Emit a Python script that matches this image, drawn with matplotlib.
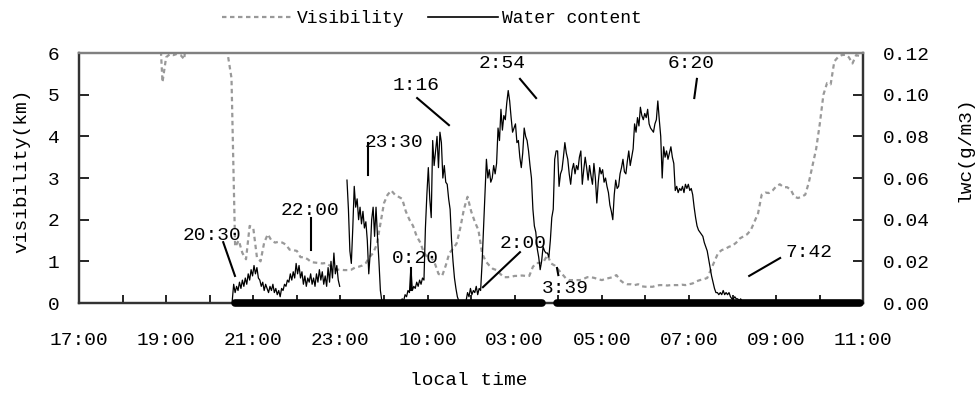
import numpy as np
import matplotlib
matplotlib.use('Agg')
import matplotlib.pyplot as plt
from matplotlib.lines import Line2D

plt.rcParams['font.family'] = ['Liberation Mono', 'DejaVu Sans']

# x轴: 17:00 之后的小时数
tick_hours = [0, 2, 4, 6, 8, 10, 12, 14, 16, 18]
tick_labels = ['17:00', '19:00', '21:00', '23:00', '10:00', '03:00',
               '05:00', '07:00', '09:00', '11:00']

# 能见度 (km), 每5分钟一个值, 超过6的部分在图外
vis_start = '18:50'
vis_step_min = 5
visibility = [
    7.0, 5.3, 5.9, 5.97, 5.95, 5.98, 5.95, 5.85, 7.0, 7.0,
    7.0, 7.0, 7.0, 7.0, 7.0, 7.0, 7.0, 7.0, 7.0, 5.95,
    5.4, 1.35, 1.5, 1.2, 1.05, 1.85, 1.8, 1.1, 1.0, 1.45,
    1.65, 1.5, 1.45, 1.47, 1.45, 1.4, 1.28, 1.27, 1.25, 1.1,
    1.1, 1.05, 0.98, 0.97, 0.96, 0.95, 0.96, 0.9, 0.85, 0.8,
    0.8, 0.79, 0.79, 0.8, 0.85, 0.87, 0.9, 0.96, 1.1, 1.2,
    1.4, 1.9, 2.4, 2.6, 2.7, 2.6, 2.55, 2.5, 2.2, 2.0,
    1.85, 1.6, 1.45, 1.2, 1.1, 1.1, 0.95, 0.7, 0.65, 0.9,
    1.2, 1.3, 1.43, 1.8, 2.25, 2.55, 2.2, 1.95, 1.75, 1.2,
    1.0, 0.9, 0.82, 0.79, 0.7, 0.62, 0.62, 0.63, 0.65, 0.65,
    0.66, 0.65, 0.65, 0.87, 0.96, 0.96, 1.0, 1.15, 0.95, 0.9,
    0.8, 0.7, 0.6, 0.55, 0.55, 0.55, 0.55, 0.58, 0.62, 0.62,
    0.6, 0.57, 0.55, 0.58, 0.6, 0.62, 0.67, 0.55, 0.48, 0.45,
    0.45, 0.43, 0.45, 0.4, 0.39, 0.39, 0.39, 0.42, 0.43, 0.43,
    0.42, 0.43, 0.43, 0.43, 0.44, 0.43, 0.45, 0.47, 0.52, 0.55,
    0.57, 0.6, 0.8, 1.0, 1.2, 1.27, 1.3, 1.35, 1.38, 1.45,
    1.55, 1.6, 1.65, 1.75, 1.95, 2.15, 2.6, 2.65, 2.64, 2.7,
    2.8, 2.85, 2.78, 2.78, 2.72, 2.55, 2.52, 2.55, 2.6, 2.9,
    3.3, 3.7, 4.3, 5.0, 5.28, 5.25, 5.8, 5.9, 5.95, 5.96,
    5.9, 5.75, 5.95, 5.93, 5.9,
]

# 液态水含量 (g/m3), 每2分钟一个值
lwc_start = '20:31'
lwc_step_min = 2
lwc = [
    0.001, 0.009, 0.005, 0.008, 0.006, 0.010, 0.007, 0.011, 0.008, 0.012,
    0.009, 0.014, 0.011, 0.016, 0.013, 0.018, 0.014, 0.017, 0.012, 0.011,
    0.008, 0.010, 0.006, 0.009, 0.007, 0.005, 0.008, 0.006, 0.009, 0.005,
    0.007, 0.004, 0.006, 0.003, 0.007, 0.006, 0.009, 0.008, 0.011, 0.010,
    0.014, 0.011, 0.015, 0.012, 0.019, 0.014, 0.018, 0.012, 0.015, 0.009,
    0.013, 0.008, 0.012, 0.010, 0.014, 0.009, 0.012, 0.008, 0.014, 0.010,
    0.016, 0.011, 0.015, 0.009, 0.013, 0.008, 0.017, 0.010, 0.020, 0.012,
    0.024, 0.014, 0.018, 0.011, 0.008,
    np.nan, np.nan, np.nan, np.nan,
    0.059, 0.045, 0.025, 0.019, 0.036, 0.056, 0.046, 0.050, 0.040, 0.046,
    0.038, 0.044, 0.036, 0.039, 0.030, 0.014, 0.024, 0.040, 0.046, 0.032,
    0.046, 0.032, 0.020, 0.006, 0.001,
    0.000, 0.001, 0.000, 0.000, 0.001, 0.000, 0.000, 0.001, 0.000, 0.000,
    0.001, 0.000,
    0.001, 0.002, 0.001, 0.004, 0.003, 0.006, 0.005, 0.017, 0.006, 0.008,
    0.007, 0.010, 0.008, 0.011, 0.009, 0.012, 0.011,
    0.036, 0.052, 0.065, 0.050, 0.041, 0.078, 0.066, 0.073, 0.080, 0.065,
    0.082, 0.077, 0.060, 0.066, 0.058, 0.057, 0.050, 0.045, 0.030, 0.020,
    0.012, 0.007, 0.003, 0.001, 0.000, 0.001, 0.000, 0.001, 0.001,
    0.005, 0.003, 0.007, 0.004, 0.006, 0.005, 0.008, 0.004, 0.007, 0.006,
    0.019, 0.036, 0.053, 0.069, 0.060, 0.064, 0.058, 0.060, 0.066, 0.062,
    0.067, 0.084, 0.078, 0.093, 0.083, 0.090, 0.088, 0.096, 0.102, 0.097,
    0.089, 0.082, 0.084, 0.086, 0.077, 0.078, 0.070, 0.065, 0.072, 0.084,
    0.080,
    0.078, 0.073, 0.066, 0.060, 0.045, 0.037, 0.034, 0.026, 0.022, 0.016,
    0.020, 0.027, 0.025, 0.024,
    0.024, 0.022, 0.030, 0.041, 0.045, 0.069, 0.073, 0.073, 0.056, 0.062,
    0.064, 0.070, 0.077, 0.072, 0.069, 0.062, 0.057, 0.064, 0.067, 0.062,
    0.066, 0.064, 0.070, 0.073, 0.057, 0.064, 0.070, 0.065, 0.059, 0.066,
    0.061, 0.057, 0.067, 0.060, 0.048, 0.058, 0.065, 0.062, 0.064, 0.058,
    0.060, 0.056, 0.053, 0.047, 0.044, 0.040, 0.052, 0.059, 0.055, 0.056,
    0.062, 0.065, 0.069, 0.063, 0.062, 0.068, 0.073, 0.066, 0.070, 0.074,
    0.086, 0.082, 0.089, 0.085, 0.094, 0.090, 0.088, 0.091, 0.089, 0.093,
    0.086,
    0.084, 0.083, 0.082, 0.086, 0.088, 0.097, 0.088, 0.080, 0.060, 0.075,
    0.070, 0.073, 0.069, 0.072, 0.075, 0.070, 0.067, 0.054, 0.056, 0.053,
    0.055,
    0.054, 0.056, 0.053, 0.057, 0.055, 0.057, 0.054, 0.055, 0.052, 0.046,
    0.041, 0.037, 0.035, 0.034, 0.033, 0.032, 0.029, 0.027, 0.025, 0.021,
    0.017, 0.013, 0.010, 0.007, 0.005, 0.005, 0.004, 0.005, 0.004, 0.006,
    0.004, 0.005, 0.004, 0.005, 0.003, 0.002, 0.002, 0.003, 0.002, 0.002,
    0.001, 0.002, 0.001, 0.001, 0.001, 0.000,
]

# 雾的时段 (底部粗线)
fog_start = ['20:35', '03:58']
fog_end = ['03:38', '10:55']


def hours(s):
    h, m = map(int, s.split(':'))
    return (h - 17) % 24 + m / 60


vis_t = hours(vis_start) + np.arange(len(visibility)) * vis_step_min / 60
lwc_t = hours(lwc_start) + np.arange(len(lwc)) * lwc_step_min / 60

fig = plt.figure(figsize=(9.75, 3.93), dpi=100)
ax = fig.add_axes([0.081, 0.229, 0.8045, 0.636])
ax2 = ax.twinx()

ax.plot(vis_t, visibility, color='#999999', lw=1.6, dashes=(2, 1.6))
ax2.plot(lwc_t, lwc, color='black', lw=0.9)
for s, e in zip(fog_start, fog_end):
    ax2.plot([hours(s), hours(e) + (24 if hours(e) < hours(s) else 0)], [0, 0],
             color='black', lw=5.5, solid_capstyle='round', clip_on=False, zorder=5)

# 标注: 文字位置 (小时, km) 和指示线
notes = [
    ('20:30', 3.05, 1.63, [3.31, 3.58], [1.46, 0.65]),
    ('22:00', 5.30, 2.23, [5.32, 5.32], [2.04, 1.27]),
    ('23:30', 7.23, 3.86, [6.63, 6.63], [3.85, 3.07]),
    ('1:16', 7.73, 5.21, [7.76, 8.49], [4.92, 4.27]),
    ('2:54', 9.71, 5.74, [10.12, 10.49], [5.38, 4.92]),
    ('6:20', 14.05, 5.74, [14.18, 14.12], [5.38, 4.92]),
    ('0:20', 7.73, 1.08, [7.62, 7.62], [0.84, 0.31]),
    ('2:00', 10.19, 1.42, [10.12, 9.27], [1.22, 0.38]),
    ('3:39', 11.15, 0.34, [10.97, 11.0], [0.84, 0.67]),
    ('7:42', 16.75, 1.22, [16.09, 15.38], [1.08, 0.65]),
]
for txt, tx, ty, lx, ly in notes:
    ax.text(tx, ty, txt, ha='center', va='center', fontsize=14)
    ax.plot(lx, ly, color='black', lw=1.5)

ax.set_xlim(0, 18)
ax.set_ylim(0, 6)
ax2.set_ylim(0, 0.12)
ax.set_xticks(tick_hours)
ax.set_xticklabels(tick_labels)
ax.set_xticks(range(0, 19), minor=True)
ax.set_yticks(range(0, 7))
ax2.set_yticks([0, 0.02, 0.04, 0.06, 0.08, 0.10, 0.12])
ax2.set_yticklabels(['0.00', '0.02', '0.04', '0.06', '0.08', '0.10', '0.12'])

ax.tick_params(axis='x', which='both', direction='in', length=6, width=1.2,
               pad=21, labelsize=14)
ax.tick_params(axis='y', direction='in', length=7, width=1.2, pad=14, labelsize=14)
ax2.tick_params(axis='y', direction='in', length=7, width=1.2, pad=14, labelsize=14)

for a in (ax, ax2):
    for side in ('left', 'right', 'bottom'):
        a.spines[side].set_color('#333333')
        a.spines[side].set_linewidth(1.6)
    a.spines['top'].set_color('#808080')
    a.spines['top'].set_linewidth(1.6)

fig.text(0.022, 0.565, 'visibility(km)', rotation=90, ha='center', va='center', fontsize=14)
fig.text(0.99, 0.62, 'lwc(g/m3)', rotation=90, ha='center', va='center', fontsize=14)
fig.text(0.481, 0.033, 'local time', ha='center', va='center', fontsize=14)

handles = [Line2D([], [], color='#999999', lw=1.6, dashes=(2, 1.6)),
           Line2D([], [], color='black', lw=1.2)]
fig.legend(handles, ['Visibility', 'Water content'], loc='center',
           bbox_to_anchor=(0.443, 0.953), ncol=2, frameon=False, fontsize=13,
           handlelength=3.9, handletextpad=0.25, columnspacing=1.3)

plt.savefig('out.png', dpi=100)
